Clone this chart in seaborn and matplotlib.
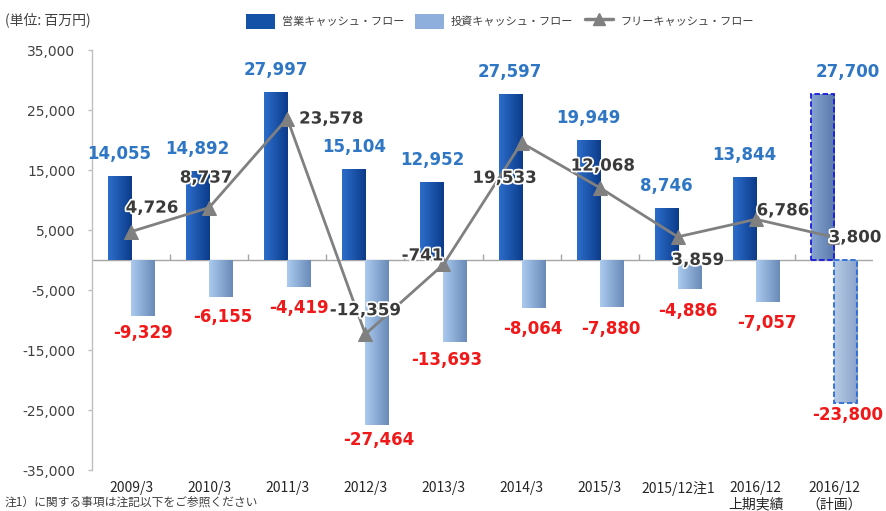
import numpy as np
import pandas as pd
import seaborn as sns
import matplotlib
matplotlib.use("Agg")
import matplotlib.pyplot as plt
from matplotlib.colors import LinearSegmentedColormap
from matplotlib.patches import Patch
from matplotlib.lines import Line2D
import matplotlib.patheffects as pe

# ---------------- data ----------------
categories = ['2009/3', '2010/3', '2011/3', '2012/3', '2013/3', '2014/3',
              '2015/3', '2015/12注1', '2016/12\n上期実績', '2016/12\n（計画）']
operating_cf = [14055, 14892, 27997, 15104, 12952, 27597, 19949, 8746, 13844, 27700]
investing_cf = [-9329, -6155, -4419, -27464, -13693, -8064, -7880, -4886, -7057, -23800]
free_cf = [4726, 8737, 23578, -12359, -741, 19533, 12068, 3859, 6786, 3800]
series_names = ['営業キャッシュ・フロー', '投資キャッシュ・フロー', 'フリーキャッシュ・フロー']
y_ticks = [-35000, -25000, -15000, -5000, 5000, 15000, 25000, 35000]
unit_label = '(単位: 百万円)'
footnote = '注1）に関する事項は注記以下をご参照ください'

# ---------------- style ----------------
sns.set_theme(style='white')
plt.rcParams['font.family'] = ['DejaVu Sans', 'Noto Sans CJK JP']
CJK = ['Noto Sans CJK JP', 'DejaVu Sans']

op_grad = ['#2C6DCB', '#0C3C8A']
inv_grad = ['#AACAEF', '#6A8BB8']
op_plan_grad = ['#86A5D0', '#5A79AC']
inv_plan_grad = ['#B8CCE6', '#8AA3CA']
line_color = '#808080'
op_text = '#2F77C4'
inv_text = '#F01818'
fcf_text = '#3A3A3A'

# label offsets (pixels)
op_dx = [0, 0, 0, 0, 0, 0, 0, 0, 0, 25]
op_dy = 22
inv_dx = [0, 2, 0, 2, -8, 0, 0, -1, 0, 2]
inv_dy = [17, 20, 21, 15, 18, 21, 22, 22, 21, 12]
fcf_off = [(21, 24), (-3, 30), (44, 0), (0, 24), (-21, 9), (-17, -35),
           (3, 22), (20, -23), (27, 9), (21, 0)]

df = pd.DataFrame({
    'category': categories * 2,
    'value': operating_cf + investing_cf,
    'series': [series_names[0]] * len(categories) + [series_names[1]] * len(categories),
})

fig = plt.figure(figsize=(8.86, 5.11), dpi=100)
ax = fig.add_axes([92 / 886, 1 - 470 / 511, (873 - 92) / 886, 420 / 511])

ax.axhline(0, color='#A6A6A6', lw=1, zorder=1)
ax.vlines(np.arange(0.5, len(categories) - 1, 1), 0, 1000, color='#A6A6A6', lw=1, zorder=1)

sns.barplot(data=df, x='category', y='value', hue='series', order=categories,
            hue_order=series_names[:2], palette=[op_grad[1], inv_grad[1]],
            width=0.59, gap=0, saturation=1, errorbar=None, legend=False, ax=ax,
            zorder=3)


def grad_fill(bar, colors):
    x0, y0 = bar.get_x(), bar.get_y()
    w, h = bar.get_width(), bar.get_height()
    cmap = LinearSegmentedColormap.from_list('g', colors)
    grad = np.linspace(0, 1, 64).reshape(1, -1)
    im = ax.imshow(grad, extent=[x0, x0 + w, min(y0, y0 + h), max(y0, y0 + h)],
                   aspect='auto', cmap=cmap, origin='lower',
                   zorder=bar.get_zorder() - 0.01, interpolation='bilinear')
    im.set_clip_path(bar)
    bar.set_facecolor('none')


n = len(categories)
op_bars = list(ax.containers[0])
inv_bars = list(ax.containers[1])
for i, b in enumerate(op_bars):
    if i == n - 1:
        grad_fill(b, op_plan_grad)
        b.set_edgecolor('#1A1ADC')
        b.set_linestyle((0, (3, 1.5)))
        b.set_linewidth(1.3)
    else:
        grad_fill(b, op_grad)
        b.set_linewidth(0)
for i, b in enumerate(inv_bars):
    if i == n - 1:
        grad_fill(b, inv_plan_grad)
        b.set_edgecolor('#2B6CD6')
        b.set_linestyle((0, (3, 1.5)))
        b.set_linewidth(1.3)
    else:
        grad_fill(b, inv_grad)
        b.set_linewidth(0)

sns.lineplot(x=np.arange(n), y=free_cf, ax=ax, color=line_color, lw=2.0,
             marker='^', markersize=10, markeredgecolor=line_color, zorder=6)

halo = [pe.withStroke(linewidth=2.5, foreground='white')]
for i in range(n):
    b = op_bars[i]
    ax.annotate(f'{operating_cf[i]:,}', (b.get_x() + b.get_width() / 2, operating_cf[i]),
                xytext=(op_dx[i], op_dy), textcoords='offset pixels', ha='center', va='center',
                fontsize=12, fontweight='bold', color=op_text, zorder=8)
    b = inv_bars[i]
    ax.annotate(f'{investing_cf[i]:,}', (b.get_x() + b.get_width() / 2, investing_cf[i]),
                xytext=(inv_dx[i], -inv_dy[i]), textcoords='offset pixels', ha='center', va='center',
                fontsize=12, fontweight='bold', color=inv_text, zorder=8)
    ax.annotate(f'{free_cf[i]:,}', (i, free_cf[i]),
                xytext=fcf_off[i], textcoords='offset pixels', ha='center', va='center',
                fontsize=12, fontweight='bold', color=fcf_text, zorder=9, path_effects=halo)

ax.set_xlim(-0.5, n - 0.5)
ax.set_ylim(-35000, 35000)
ax.set_aspect('auto')
ax.set_yticks(y_ticks)
ax.set_yticklabels([f'{v:,}' for v in y_ticks])
ax.tick_params(axis='y', left=True, length=3, width=1, color='#BFBFBF', pad=9,
               labelsize=10, labelcolor='#404040')
ax.tick_params(axis='x', bottom=False, length=0, pad=8, labelsize=10, labelcolor='#262626')
for lab in ax.get_xticklabels():
    lab.set_family(CJK)
ax.set_xlabel('')
ax.set_ylabel('')
for s in ['top', 'right', 'bottom']:
    ax.spines[s].set_visible(False)
ax.spines['left'].set_color('#BFBFBF')
ax.spines['left'].set_linewidth(1)
ax.grid(False)

handles = [
    Patch(facecolor='#1452A8', edgecolor='none'),
    Patch(facecolor='#8EAEDC', edgecolor='none'),
    Line2D([0], [0], color=line_color, lw=2.5, marker='^', markersize=9),
]
leg = fig.legend(handles, series_names, loc='center', bbox_to_anchor=(500 / 886, 1 - 21 / 511),
                 ncol=3, frameon=False, handlelength=2.6, handleheight=1.7,
                 columnspacing=1.0, handletextpad=0.6, prop={'family': CJK, 'size': 8})
for t in leg.get_texts():
    t.set_color('#404040')

fig.text(5 / 886, 1 - 20 / 511, unit_label, fontsize=10, color='#404040', family=CJK,
         ha='left', va='center')
fig.text(5 / 886, 2 / 511, footnote, fontsize=8.5, color='#404040', family=CJK,
         ha='left', va='bottom')

fig.savefig('out.png', dpi=100)
